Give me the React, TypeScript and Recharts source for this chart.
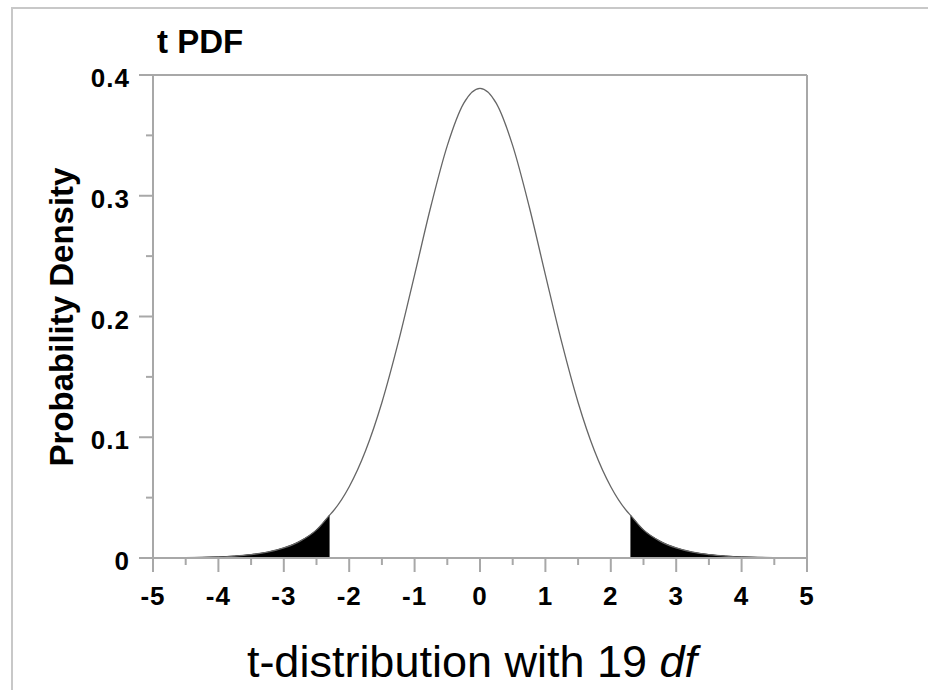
import React from 'react';
import { ComposedChart, Line, Area, XAxis, YAxis, ReferenceLine } from 'recharts';

// t values and density (19 df)
const tValues = [
  -5, -4.75, -4.5, -4.25, -4, -3.75, -3.5, -3.25, -3, -2.75, -2.5, -2.3, -2.25, -2, -1.75, -1.5, -1.25, -1, -0.75, -0.5, -0.25,
  0, 0.25, 0.5, 0.75, 1, 1.25, 1.5, 1.75, 2, 2.25, 2.3, 2.5, 2.75, 3, 3.25, 3.5, 3.75, 4, 4.25, 4.5, 4.75, 5,
];
const pdfValues = [
  0.0001, 0.0002, 0.0003, 0.0005, 0.0009, 0.0016, 0.0028, 0.0048, 0.0083, 0.014, 0.0233, 0.0355, 0.0385, 0.059, 0.0888, 0.1288, 0.1785, 0.2345, 0.2915, 0.3415, 0.3765,
  0.389, 0.3765, 0.3415, 0.2915, 0.2345, 0.1785, 0.1288, 0.0888, 0.059, 0.0385, 0.0355, 0.0233, 0.014, 0.0083, 0.0048, 0.0028, 0.0016, 0.0009, 0.0005, 0.0003, 0.0002, 0.0001,
];
const tailCut = 2.3;

const majorXTicks = [-5, -4, -3, -2, -1, 0, 1, 2, 3, 4, 5];
const minorXTicks = [-4.5, -3.5, -2.5, -1.5, -0.5, 0.5, 1.5, 2.5, 3.5, 4.5];
const majorYTicks = [0, 0.1, 0.2, 0.3, 0.4];
const minorYTicks = [0.05, 0.15, 0.25, 0.35];

const title = 't PDF';
const yLabel = 'Probability Density';
const caption = 't-distribution with 19 ';

const data = tValues.map((t, i) => ({
  t,
  pdf: pdfValues[i],
  left: t <= -tailCut ? pdfValues[i] : null,
  right: t >= tailCut ? pdfValues[i] : null,
}));

const FONT = '"Liberation Sans", Arial, Helvetica, sans-serif';
const AXIS = '#a8a8a8';

const XTick = (props: any) => {
  const { x, y, payload } = props;
  const major = majorXTicks.includes(payload.value);
  return (
    <g>
      <line x1={x} x2={x} y1={y} y2={y + (major ? 14 : 7)} stroke={AXIS} strokeWidth={2} />
      {major && (
        <text x={x} y={y + 47} textAnchor="middle" fontFamily={FONT} fontWeight="bold" fontSize={26} letterSpacing={1} fill="#000">
          {String(payload.value)}
        </text>
      )}
    </g>
  );
};

const YTick = (props: any) => {
  const { x, y, payload } = props;
  const major = majorYTicks.includes(payload.value);
  return (
    <g>
      <line x1={x - (major ? 14 : 7)} x2={x} y1={y} y2={y} stroke={AXIS} strokeWidth={2} />
      {major && (
        <text x={x - 23} y={y + 12} textAnchor="end" fontFamily={FONT} fontWeight="bold" fontSize={26} letterSpacing={1} fill="#000">
          {String(payload.value)}
        </text>
      )}
    </g>
  );
};

export default function App() {
  return (
    <div style={{ position: 'absolute', left: 0, top: 0, width: 928, height: 690, overflow: 'hidden', background: '#fff' }}>
      <div
        style={{
          position: 'absolute', left: 11, top: 7, width: 960, height: 720,
          border: '2px solid #c8c8c8', boxSizing: 'border-box',
        }}
      />
      <div style={{ position: 'absolute', left: 0, top: 0 }}>
        <ComposedChart width={928} height={690} data={data} margin={{ top: 75, right: 121, left: 0, bottom: 0 }}>
          <XAxis
            dataKey="t"
            type="number"
            domain={[-5, 5]}
            ticks={[...majorXTicks, ...minorXTicks].sort((a, b) => a - b)}
            interval={0}
            height={132}
            tickSize={0}
            tickMargin={0}
            tickLine={false}
            tick={<XTick />}
            axisLine={{ stroke: AXIS, strokeWidth: 2 }}
          />
          <YAxis
            type="number"
            domain={[0, 0.4]}
            ticks={[...majorYTicks, ...minorYTicks].sort((a, b) => a - b)}
            interval={0}
            width={153}
            tickSize={0}
            tickMargin={0}
            tickLine={false}
            tick={<YTick />}
            axisLine={{ stroke: AXIS, strokeWidth: 2 }}
          />
          <ReferenceLine y={0.4} stroke={AXIS} strokeWidth={2} />
          <ReferenceLine x={5} stroke={AXIS} strokeWidth={2} />
          <Area dataKey="left" type="monotone" fill="#000" fillOpacity={1} stroke="#000" strokeWidth={1} isAnimationActive={false} />
          <Area dataKey="right" type="monotone" fill="#000" fillOpacity={1} stroke="#000" strokeWidth={1} isAnimationActive={false} />
          <Line dataKey="pdf" type="monotone" stroke="#666" strokeWidth={1.3} dot={false} isAnimationActive={false} />
        </ComposedChart>
      </div>
      <svg width={928} height={690} style={{ position: 'absolute', left: 0, top: 0, pointerEvents: 'none' }}>
        <text x={157} y={53} fontFamily={FONT} fontWeight="bold" fontSize={33} fill="#000">{title}</text>
        <text
          transform="translate(73,317) rotate(-90)"
          textAnchor="middle"
          fontFamily={FONT}
          fontWeight="bold"
          fontSize={33}
          fill="#000"
        >
          {yLabel}
        </text>
        <text x={472} y={677} textAnchor="middle" fontFamily={FONT} fontSize={45} fill="#000">
          {caption}
          <tspan fontStyle="italic">df</tspan>
        </text>
      </svg>
    </div>
  );
}
